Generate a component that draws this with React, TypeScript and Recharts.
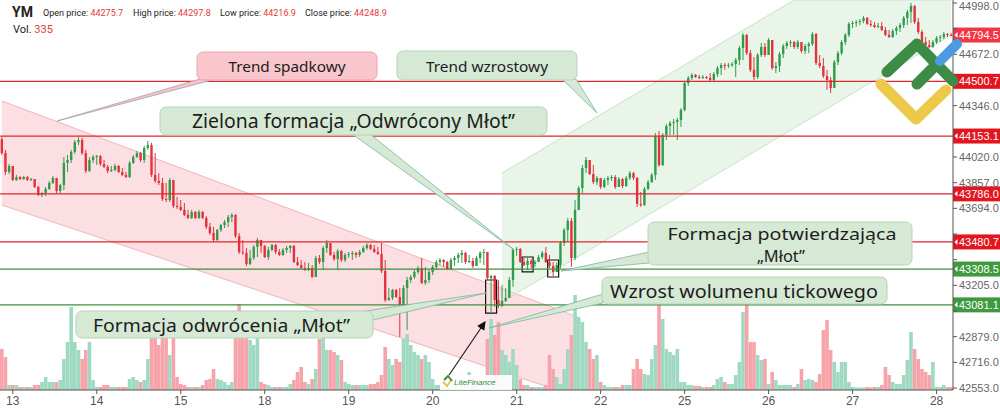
import React from 'react';
import { ComposedChart, Bar, Area, XAxis, YAxis, ReferenceLine, ReferenceArea, Cell } from 'recharts';

// hourly candles, 23 per session day
const dayLabels = ['13', '14', '15', '18', '19', '20', '21', '22', '25', '26', '27', '28'];
const dayStartIdx = [3, 26, 49, 72, 95, 118, 141, 164, 187, 210, 233, 256];
const priceTicks = [42553, 42716, 42879, 43042, 43205, 43368, 43531, 43694, 43857, 44020, 44183, 44346, 44509, 44672, 44835, 44998];
// tick labels that sit under the price tags in the picture
const coveredTicks = [43042, 43368, 43531, 44183, 44509, 44835];

const firstOpen = 44134;
const closes = [
  44045, 43925, 43963,
  43874, 43893, 43880, 43893, 43874, 43880, 43830, 43779, 43791, 43817, 43855, 43887, 43804, 43842, 43982, 44001, 44052, 44115, 44128, 44045, 43931, 44001, 44020,
  44026, 43976, 43957, 43931, 43938, 43963, 43925, 43906, 43893, 43982, 44020, 44045, 44001, 44077, 44096, 43906, 43868, 43855, 43753, 43747, 43874, 43709, 43703,
  43684, 43652, 43633, 43671, 43633, 43671, 43633, 43576, 43537, 43493, 43557, 43588, 43607, 43639, 43652, 43518, 43417, 43411, 43341, 43379, 43449, 43493, 43455,
  43385, 43430, 43461, 43417, 43398, 43430, 43442, 43455, 43353, 43334, 43315, 43302, 43315, 43258, 43379, 43353, 43442, 43474, 43398, 43372, 43423, 43366, 43398,
  43404, 43411, 43398, 43417, 43442, 43461, 43436, 43417, 43404, 43296, 43112, 43125, 43176, 43131, 43080, 43188, 43239, 43258, 43290, 43315, 43220, 43239, 43290,
  43322, 43353, 43366, 43353, 43309, 43366, 43379, 43398, 43411, 43353, 43360, 43328, 43379, 43411, 43417, 43252, 43264, 43112, 43074, 43106, 43125, 43239, 43430,
  43436, 43353, 43334, 43360, 43341, 43353, 43385, 43411, 43353, 43328, 43290, 43334, 43474, 43557, 43614, 43379, 43684, 43823, 43950, 44001, 43912, 43861, 43887,
  43830, 43874, 43887, 43893, 43830, 43880, 43836, 43887, 43918, 43887, 43722, 43715, 43817, 43861, 43906, 44153, 43969, 44160, 44217, 44236, 44242, 44255, 44319,
  44490, 44522, 44541, 44528, 44522, 44528, 44522, 44509, 44547, 44585, 44604, 44598, 44604, 44611, 44636, 44712, 44795, 44680, 44573, 44528, 44668, 44719, 44668,
  44763, 44585, 44598, 44674, 44725, 44744, 44750, 44719, 44750, 44693, 44725, 44738, 44801, 44617, 44598, 44534, 44509, 44458, 44623, 44680, 44750, 44795, 44865,
  44871, 44877, 44884, 44903, 44865, 44858, 44846, 44852, 44827, 44795, 44782, 44820, 44839, 44858, 44903, 44941, 44979, 44877, 44814, 44750, 44731, 44719, 44750,
  44776, 44782, 44801, 44795, 44794.5,
];
const highs = [
  44147, 44065, 43976,
  43963, 43906, 43899, 43899, 43899, 43887, 43880, 43836, 43798, 43830, 43868, 43899, 43887, 43849, 44020, 44033, 44065, 44128, 44147, 44141, 44065, 44020, 44033,
  44033, 44033, 44001, 43969, 43963, 43976, 43969, 43950, 43925, 43995, 44033, 44058, 44052, 44090, 44122, 44109, 44045, 43918, 43887, 43855, 43887, 43874, 43766,
  43747, 43728, 43684, 43684, 43677, 43684, 43677, 43645, 43601, 43576, 43563, 43595, 43620, 43652, 43664, 43658, 43537, 43493, 43442, 43430, 43461, 43506, 43493,
  43461, 43449, 43468, 43468, 43436, 43442, 43455, 43461, 43461, 43385, 43366, 43353, 43347, 43334, 43392, 43398, 43455, 43493, 43474, 43417, 43436, 43430, 43411,
  43417, 43423, 43417, 43430, 43455, 43474, 43468, 43461, 43449, 43474, 43366, 43188, 43182, 43182, 43188, 43207, 43258, 43271, 43302, 43328, 43379, 43322, 43302,
  43334, 43366, 43379, 43372, 43360, 43379, 43392, 43411, 43430, 43417, 43398, 43379, 43392, 43423, 43436, 43417, 43271, 43271, 43239, 43207, 43188, 43258, 43442,
  43449, 43442, 43379, 43379, 43372, 43366, 43398, 43423, 43449, 43398, 43353, 43353, 43487, 43569, 43633, 43633, 43747, 43836, 43969, 44020, 44001, 43969, 43899,
  43887, 43887, 43899, 43906, 43906, 43893, 43887, 43899, 43931, 43925, 43893, 43798, 43830, 43874, 43918, 44172, 44185, 44172, 44230, 44249, 44261, 44268, 44331,
  44503, 44534, 44553, 44547, 44541, 44541, 44534, 44553, 44560, 44598, 44617, 44617, 44617, 44623, 44649, 44725, 44807, 44801, 44700, 44655, 44680, 44744, 44744,
  44776, 44763, 44623, 44687, 44738, 44757, 44763, 44757, 44763, 44750, 44738, 44750, 44814, 44807, 44668, 44649, 44573, 44528, 44636, 44693, 44763, 44807, 44877,
  44884, 44890, 44896, 44915, 44909, 44890, 44877, 44871, 44877, 44846, 44827, 44833, 44852, 44871, 44915, 44954, 44998, 44985, 44903, 44827, 44782, 44763, 44763,
  44788, 44795, 44814, 44807, 44807,
];
const lows = [
  44033, 43906, 43912,
  43868, 43868, 43874, 43874, 43868, 43868, 43823, 43772, 43766, 43772, 43811, 43849, 43791, 43791, 43811, 43925, 43982, 44039, 44096, 44033, 43918, 43925, 43982,
  43969, 43963, 43950, 43918, 43925, 43931, 43918, 43899, 43887, 43887, 43976, 44014, 43988, 43982, 44065, 43893, 43855, 43842, 43741, 43734, 43734, 43696, 43690,
  43677, 43645, 43626, 43626, 43626, 43626, 43626, 43563, 43525, 43480, 43487, 43544, 43569, 43576, 43607, 43506, 43404, 43398, 43328, 43334, 43366, 43385, 43411,
  43379, 43366, 43423, 43404, 43392, 43392, 43411, 43411, 43347, 43328, 43309, 43296, 43296, 43252, 43258, 43341, 43302, 43411, 43392, 43360, 43302, 43353, 43353,
  43379, 43366, 43379, 43385, 43411, 43430, 43430, 43411, 43398, 43283, 43099, 43106, 43112, 43125, 42877, 43074, 42922, 43220, 43245, 43277, 43214, 43207, 43220,
  43271, 43302, 43334, 43322, 43302, 43302, 43328, 43347, 43347, 43341, 43347, 43315, 43328, 43347, 43334, 43239, 43036, 43068, 43061, 43068, 43099, 43125, 43195,
  43392, 43347, 43328, 43302, 43315, 43322, 43353, 43372, 43347, 43315, 43264, 43290, 43315, 43455, 43480, 43322, 43366, 43684, 43791, 43918, 43906, 43849, 43842,
  43817, 43823, 43842, 43868, 43817, 43830, 43823, 43830, 43874, 43874, 43703, 43703, 43709, 43811, 43855, 43874, 43957, 43963, 44128, 44160, 44160, 44128, 44211,
  44310, 44471, 44509, 44522, 44515, 44515, 44515, 44496, 44503, 44528, 44541, 44573, 44585, 44592, 44528, 44604, 44636, 44668, 44560, 44509, 44515, 44655, 44655,
  44668, 44573, 44553, 44560, 44649, 44706, 44719, 44706, 44706, 44680, 44674, 44680, 44725, 44604, 44585, 44522, 44446, 44426, 44458, 44604, 44668, 44731, 44782,
  44839, 44846, 44858, 44871, 44858, 44846, 44839, 44839, 44820, 44788, 44776, 44776, 44795, 44814, 44839, 44858, 44871, 44865, 44801, 44738, 44725, 44712, 44712,
  44738, 44750, 44769, 44782, 44788,
];
const volumes = [
  2460, 1980, 300,
  300, 300, 180, 180, 180, 180, 300, 300, 480, 780, 480, 480, 480, 600, 1860, 2880, 4980, 2880, 2400, 1860, 2400, 2880, 600,
  180, 180, 300, 300, 180, 180, 180, 180, 180, 660, 780, 600, 480, 600, 1860, 3480, 3480, 2700, 3480, 3180, 2100, 3480, 780,
  360, 300, 180, 180, 180, 180, 300, 600, 660, 1260, 660, 600, 480, 300, 480, 3300, 5160, 3300, 3480, 3000, 2700, 3360, 480,
  360, 300, 180, 180, 180, 180, 180, 360, 600, 1080, 1380, 480, 360, 660, 1260, 3060, 3360, 2400, 2400, 2280, 2100, 1800, 480,
  360, 300, 300, 300, 300, 300, 360, 360, 480, 900, 2580, 1860, 1500, 1860, 1680, 3060, 3360, 2700, 2280, 2100, 1860, 2100, 1680,
  660, 300, 300, 180, 180, 180, 300, 360, 360, 660, 1080, 780, 360, 360, 360, 3060, 4260, 3300, 4080, 2400, 2100, 1680, 2460,
  1500, 660, 300, 300, 180, 180, 180, 180, 300, 2100, 1260, 780, 360, 1260, 2460, 3300, 5700, 4380, 4080, 2880, 2460, 1860, 2100,
  480, 300, 180, 180, 180, 180, 300, 300, 300, 1260, 1860, 1260, 960, 900, 1860, 2700, 5460, 4260, 2460, 2280, 2100, 2460, 480,
  480, 300, 300, 240, 240, 180, 180, 180, 300, 660, 780, 480, 360, 360, 900, 1680, 4680, 5280, 2880, 2880, 2100, 1800, 1860,
  360, 1080, 600, 300, 300, 300, 300, 180, 360, 1260, 600, 660, 600, 480, 960, 3600, 4200, 2400, 1680, 1080, 1680, 1680, 480,
  180, 150, 150, 150, 180, 150, 180, 180, 300, 1380, 900, 480, 360, 360, 900, 1800, 3480, 2460, 1860, 1260, 1080, 900, 1680,
  180, 180, 300, 180, 180,
];

// horizontal levels
const levels = [44500.7, 44153.1, 43786.0, 43480.7, 43308.5, 43081.1];
const levelColors = ['#e0262d', '#e0262d', '#e0262d', '#e0262d', '#3f8f3f', '#3f8f3f'];
const lastPrice = 44794.5;

// channels (candle index, lower, upper)
const pinkIdx = [0, 152, 158];
const pinkLower = [43715, 42541, 42541];
const pinkUpper = [44376, 43054, 43001];
const greenIdx = [137, 217, 260];
const greenLower = [43099, 44204, 44795];
const greenUpper = [43918, 45017, 45017];

// boxed candles
const markedIdx = [134, 144, 151];
const markedLow = [43029, 43290, 43258];
const markedHigh = [43239, 43385, 43366];

const GREEN = '#2f9c4c';
const RED = '#e2333d';
const VOL_GREEN = '#a0d9c1';
const VOL_RED = '#f6a4aa';
const BAR_W = 3.6;

const rows = closes.map((c, i) => {
  const open = i === 0 ? firstOpen : closes[i - 1];
  const pi = pinkIdx.indexOf(i);
  const gi = greenIdx.indexOf(i);
  return {
    i,
    open,
    close: c,
    high: highs[i],
    low: lows[i],
    range: [lows[i], highs[i]],
    vol: volumes[i],
    up: c >= open,
    pink: pi >= 0 ? [pinkLower[pi], pinkUpper[pi]] : null,
    green: gi >= 0 ? [greenLower[gi], greenUpper[gi]] : null,
  };
});

const Candle = (props: any) => {
  const { x, y, width, height, payload } = props;
  if (!payload) return null;
  const { open, close, high, low } = payload;
  const top = Math.min(y, y + height);
  const h = Math.abs(height);
  const span = high - low || 1;
  const py = (p: number) => top + ((high - p) / span) * h;
  const color = close >= open ? GREEN : RED;
  const cx = x + width / 2;
  const bTop = py(Math.max(open, close));
  const bH = Math.max(1, py(Math.min(open, close)) - bTop);
  return (
    <g>
      <line x1={cx} x2={cx} y1={top} y2={top + h} stroke={color} strokeWidth={1} />
      <rect x={cx - 1.2} y={bTop} width={2.4} height={bH} fill={color} />
    </g>
  );
};

const tag = (text: string, color: string) => (props: any) => {
  const vb = props.viewBox || {};
  const x = vb.x + vb.width;
  const y = vb.y;
  return (
    <g>
      <rect x={x} y={y - 7.5} width={47} height={15} fill={color} />
      <path d={`M${x + 1.5},${y} L${x + 4.5},${y - 3} L${x + 4.5},${y + 3} Z`} fill="#fff" />
      <text x={x + 6} y={y + 4} fill="#fff" fontSize={11} fontFamily="Liberation Sans, Arial, sans-serif">{text}</text>
    </g>
  );
};

const boxFont = '"Noto Sans", "Open Sans", sans-serif';

function Callout({ x, y, w, h, fill, stroke, lines }: any) {
  return (
    <g>
      <rect x={x} y={y} width={w} height={h} rx={6} fill={fill} stroke={stroke} strokeWidth={1} />
      {lines.map((l: any, k: number) => (
        <text key={k} x={l.cx} y={l.cy} textAnchor="middle" dominantBaseline="central" fontSize={l.size}
          textLength={l.len} lengthAdjust="spacingAndGlyphs" fill="#1d1d1d" fontFamily={boxFont}>{l.text}</text>
      ))}
    </g>
  );
}

export default function App() {
  const gFill = '#d5e9d5';
  const gStroke = '#b5d4b5';
  const tailStroke = '#7fb2a4';
  return (
    <div style={{ position: 'absolute', left: 0, top: 0, width: 1000, height: 411, background: '#fff', fontFamily: 'Liberation Sans, Arial, sans-serif', overflow: 'hidden' }}>
      <ComposedChart width={1000} height={411} data={rows} margin={{ top: 0, right: 0, bottom: 0, left: 0 }} barGap={-BAR_W}>
        <XAxis dataKey="i" type="category" ticks={dayStartIdx} interval={0}
          tickFormatter={(v: any) => dayLabels[dayStartIdx.indexOf(v)] ?? ''}
          tick={{ fontSize: 12, fill: '#555' }} tickSize={4} tickLine={{ stroke: '#555' }} axisLine={{ stroke: '#555' }} height={21} />
        <YAxis yAxisId="p" orientation="right" width={47} domain={[42540.5, 45017]} allowDataOverflow ticks={priceTicks}
          tickFormatter={(v: number) => (coveredTicks.includes(v) ? '' : v.toFixed(1))} tick={{ fontSize: 11, fill: '#666' }} tickSize={4} tickMargin={2}
          tickLine={{ stroke: '#555' }} axisLine={{ stroke: '#555' }} />
        <YAxis yAxisId="v" hide domain={[0, 23400]} allowDataOverflow />
        <Area yAxisId="p" dataKey="pink" connectNulls dot={false} activeDot={false} type="linear" fill="#f7c4ca" fillOpacity={0.55} stroke="#f1b3ba" strokeWidth={1} isAnimationActive={false} />
        <Area yAxisId="p" dataKey="green" connectNulls dot={false} activeDot={false} type="linear" fill="#d6ecd6" fillOpacity={0.5} stroke="#c8e2c8" strokeWidth={1} isAnimationActive={false} />
        <Bar yAxisId="v" dataKey="vol" barSize={BAR_W} isAnimationActive={false}>
          {rows.map((r) => <Cell key={r.i} fill={r.up ? VOL_GREEN : VOL_RED} />)}
        </Bar>
        {levels.map((lv, k) => (
          <ReferenceLine key={lv} yAxisId="p" y={lv} stroke={levelColors[k]} strokeWidth={1.2}
            label={tag(lv.toFixed(1), k < 4 ? '#e3161f' : '#3f9a3f')} />
        ))}
        <ReferenceLine yAxisId="p" y={lastPrice} stroke="none" label={tag(lastPrice.toFixed(1), '#f23645')} />
        <Bar yAxisId="p" dataKey="range" barSize={BAR_W} shape={Candle} isAnimationActive={false} />
        {markedIdx.map((m, k) => (
          <ReferenceArea key={m} yAxisId="p" x1={m - 1} x2={m + 1} y1={markedLow[k]} y2={markedHigh[k]}
            fill="none" fillOpacity={0} stroke="#111" strokeWidth={1.2} ifOverflow="visible" />
        ))}
      </ComposedChart>

      <svg width={1000} height={411} style={{ position: 'absolute', left: 0, top: 0, pointerEvents: 'none' }}>
        <defs>
          <marker id="arr" markerWidth="8" markerHeight="8" refX="7" refY="4" orient="auto">
            <path d="M0,0 L8,4 L0,8 Z" fill="#111" />
          </marker>
        </defs>
        {/* callout tails */}
        <polygon points="200,79 216,79 57,121" fill="#f6c3c9" stroke="#a99eae" strokeWidth={0.8} />
        <polygon points="562,79 576,79 597,113" fill={gFill} stroke={tailStroke} strokeWidth={0.8} />
        <polygon points="352,134 370,134 513,249" fill={gFill} stroke={tailStroke} strokeWidth={0.8} />
        <polygon points="649,252 649,263 561,271" fill={gFill} stroke={tailStroke} strokeWidth={0.8} />
        <polygon points="603,294 603,303 489,328" fill={gFill} stroke={tailStroke} strokeWidth={0.8} />
        <polygon points="359,312 373,320 486,293" fill={gFill} stroke={tailStroke} strokeWidth={0.8} />

        <Callout x={197} y={52} w={180} h={28} fill="#f8c6cc" stroke="#eaa7af"
          lines={[{ text: 'Trend spadkowy', cx: 287, cy: 66, size: 14, len: 117 }]} />
        <Callout x={397} y={51} w={180} h={29} fill={gFill} stroke={gStroke}
          lines={[{ text: 'Trend wzrostowy', cx: 487, cy: 66, size: 14, len: 122 }]} />
        <Callout x={160} y={107} w={387} h={28} fill={gFill} stroke={gStroke}
          lines={[{ text: 'Zielona formacja „Odwrócony Młot”', cx: 353.5, cy: 121, size: 19, len: 323 }]} />
        <Callout x={648} y={222} w={264} h={43} fill={gFill} stroke={gStroke}
          lines={[
            { text: 'Formacja potwierdzająca', cx: 782, cy: 233.5, size: 16, len: 229 },
            { text: '„Młot”', cx: 781, cy: 255.5, size: 16, len: 48 },
          ]} />
        <Callout x={602} y={277} w={285} h={27} fill={gFill} stroke={gStroke}
          lines={[{ text: 'Wzrost wolumenu tickowego', cx: 744, cy: 290.5, size: 18, len: 268 }]} />
        <Callout x={76} y={311} w={297} h={27} fill={gFill} stroke={gStroke}
          lines={[{ text: 'Formacja odwrócenia „Młot”', cx: 221.5, cy: 324.5, size: 18, len: 257 }]} />

        <line x1={443} y1={384} x2={485} y2={322} stroke="#111" strokeWidth={1.1} markerEnd="url(#arr)" />

        {/* small watermark */}
        <rect x={440} y={375} width={72} height={15} fill="#fff" opacity={0.9} />
        <path d="M443,382 L447,386 L452,379" stroke="#e8c547" strokeWidth={2} fill="none" />
        <path d="M444,380 L448,376 L452,381" stroke="#3f8f47" strokeWidth={2} fill="none" />
        <text x={454} y={385} fontSize={8} fontStyle="italic" fill="#2e8b3e" fontFamily="Liberation Sans, Arial">LiteFinance</text>

        {/* logo */}
        <path d="M881,84 L916,119 L946,90" stroke="#ecc94b" strokeWidth={11} fill="none" strokeLinecap="round" strokeLinejoin="round" />
        <path d="M887,72 L917,44 L953,81" stroke="#3d8b45" strokeWidth={11} fill="none" strokeLinecap="round" strokeLinejoin="round" />
        <path d="M917,84 L938,63" stroke="#3d8b45" strokeWidth={11} fill="none" strokeLinecap="round" />
        <path d="M940,61 L957,44" stroke="#4a9be0" strokeWidth={10} fill="none" strokeLinecap="round" />
      </svg>

      <div style={{ position: 'absolute', left: 12, top: 4, fontFamily: 'Roboto, sans-serif', color: '#222', whiteSpace: 'nowrap' }}>
        <span style={{ position: 'absolute', left: 0, top: 0, fontSize: 14, fontWeight: 700 }}>YM</span>
        <span style={{ position: 'absolute', left: 31, top: 4, fontSize: 9 }}>Open price: <span style={{ color: '#e53935' }}>44275.7</span></span>
        <span style={{ position: 'absolute', left: 121, top: 4, fontSize: 9 }}>High price: <span style={{ color: '#e53935' }}>44297.8</span></span>
        <span style={{ position: 'absolute', left: 208, top: 4, fontSize: 9 }}>Low price: <span style={{ color: '#e53935' }}>44216.9</span></span>
        <span style={{ position: 'absolute', left: 293, top: 4, fontSize: 9 }}>Close price: <span style={{ color: '#e53935' }}>44248.9</span></span>
        <span style={{ position: 'absolute', left: 1, top: 19, fontSize: 11 }}>Vol. <span style={{ color: '#e53935' }}>335</span></span>
      </div>
    </div>
  );
}
